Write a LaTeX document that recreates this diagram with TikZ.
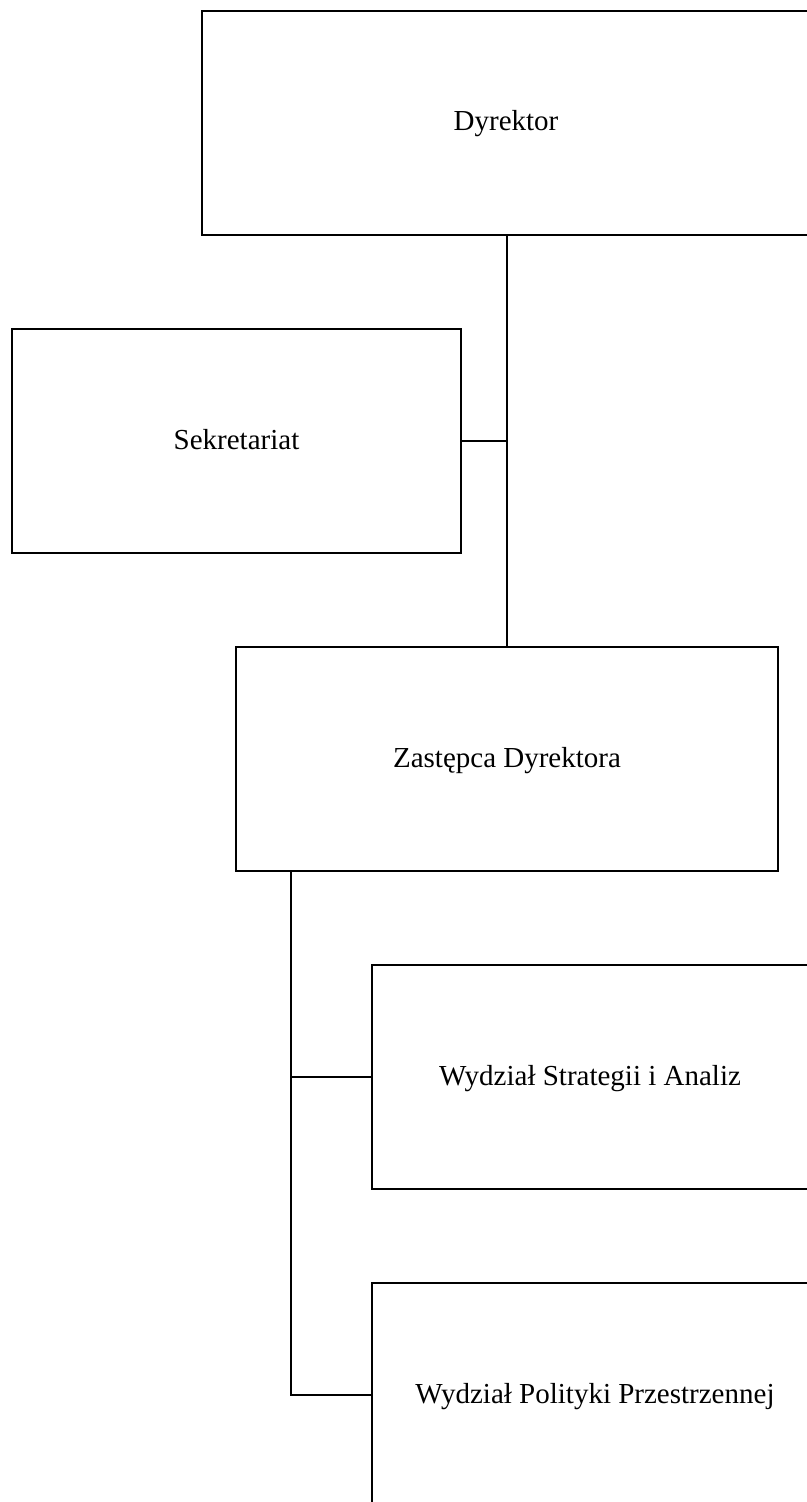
\documentclass[tikz,border=0pt]{standalone}
\usepackage{fontspec}
\setmainfont{Liberation Serif}
\begin{document}
\begin{tikzpicture}[x=0.5pt,y=-0.5pt,
  box/.style={draw=black,line width=1.4pt,rectangle,inner sep=0pt,minimum height=112pt,text height=11pt,text depth=3pt,font=\fontsize{14.5}{17}\selectfont},
  link/.style={draw=black,line width=1.4pt}]
\useasboundingbox[fill=white] (0,0) rectangle (807,1502);
\node[box,minimum width=304pt] (dyr) at (506,123) {Dyrektor};
\node[box,minimum width=224.5pt] (sek) at (236.5,441) {Sekretariat};
\node[box,minimum width=271pt] (zas) at (507,759) {Zastępca Dyrektora};
\node[box,minimum width=218pt] (str) at (590,1077) {Wydział Strategii i Analiz};
\node[box,minimum width=223pt] (pol) at (595,1395) {Wydział Polityki Przestrzennej};
\draw[link] (dyr.south -| zas.north) -- (zas.north);
\draw[link] (sek.east) -- (sek.east -| zas.north);
\coordinate (zt) at (291,871);
\draw[link] (zt) |- (pol.west);
\draw[link] (zt |- str.west) -- (str.west);
\end{tikzpicture}
\end{document}
